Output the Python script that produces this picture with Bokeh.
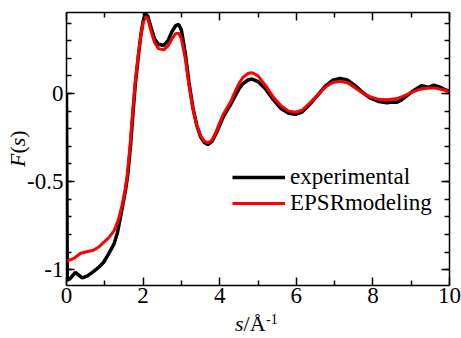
from bokeh.plotting import figure
from bokeh.models import (FixedTicker, LinearAxis, Legend, LegendItem, Div,
                          Range1d, CustomJSTickFormatter)
from bokeh.embed import file_html
from bokeh.resources import INLINE

FONT = "Liberation Serif"

# ---- data ----
s_exp = [0.0, 0.02, 0.1, 0.23, 0.41, 0.55, 0.71, 0.85, 0.97, 1.1, 1.24, 1.33, 1.41, 1.48,
         1.54, 1.6, 1.67, 1.74, 1.8, 1.87, 1.94, 2.0, 2.06, 2.12, 2.2, 2.3, 2.4, 2.54, 2.65,
         2.75, 2.85, 2.93, 3.0, 3.1, 3.2, 3.3, 3.4, 3.5, 3.6, 3.69, 3.8, 3.9, 4.0, 4.1, 4.28,
         4.4, 4.5, 4.6, 4.75, 4.85, 5.0, 5.2, 5.4, 5.6, 5.8, 5.98, 6.15, 6.35, 6.55, 6.75,
         6.95, 7.15, 7.35, 7.55, 7.75, 7.95, 8.15, 8.37, 8.5, 8.63, 8.75, 8.9, 9.05, 9.2,
         9.28, 9.45, 9.59, 9.75, 9.9, 10.0]
F_exp = [0.0, -1.06, -1.05, -1.015, -1.047, -1.035, -1.01, -0.985, -0.958, -0.91, -0.854,
         -0.79, -0.70, -0.62, -0.55, -0.46, -0.30, -0.10, 0.06, 0.20, 0.33, 0.41, 0.453,
         0.44, 0.38, 0.31, 0.28, 0.273, 0.30, 0.35, 0.385, 0.392, 0.36, 0.23, 0.06, -0.08,
         -0.18, -0.245, -0.278, -0.29, -0.272, -0.23, -0.18, -0.13, -0.065, -0.015, 0.025,
         0.055, 0.078, 0.082, 0.068, 0.025, -0.035, -0.085, -0.112, -0.118, -0.105, -0.062,
         -0.012, 0.04, 0.075, 0.085, 0.075, 0.042, 0.003, -0.028, -0.045, -0.052, -0.048,
         -0.05, -0.036, -0.01, 0.015, 0.035, 0.045, 0.035, 0.048, 0.036, 0.02, 0.013]

s_mod = [0.0, 0.2, 0.37, 0.5, 0.7, 0.85, 0.97, 1.1, 1.24, 1.35, 1.45, 1.52, 1.58, 1.65, 1.74,
         1.8, 1.87, 1.94, 2.0, 2.06, 2.12, 2.2, 2.3, 2.4, 2.54, 2.65, 2.75, 2.85, 2.93, 3.0,
         3.1, 3.2, 3.3, 3.4, 3.5, 3.6, 3.69, 3.8, 3.9, 4.0, 4.1, 4.28, 4.4, 4.5, 4.6, 4.75,
         4.85, 5.0, 5.2, 5.4, 5.6, 5.8, 5.98, 6.15, 6.35, 6.55, 6.75, 6.95, 7.15, 7.35, 7.55,
         7.75, 7.95, 8.15, 8.37, 8.6, 8.8, 9.0, 9.2, 9.4, 9.55, 9.7, 9.85, 10.0]
F_mod = [-0.953, -0.935, -0.907, -0.90, -0.89, -0.87, -0.845, -0.82, -0.78, -0.72, -0.635,
         -0.56, -0.475, -0.32, -0.07, 0.074, 0.21, 0.33, 0.40, 0.437, 0.425, 0.36, 0.29,
         0.255, 0.248, 0.27, 0.31, 0.34, 0.343, 0.31, 0.2, 0.045, -0.085, -0.18, -0.24,
         -0.27, -0.28, -0.265, -0.22, -0.165, -0.115, -0.05, 0.01, 0.055, 0.09, 0.115,
         0.118, 0.1, 0.045, -0.02, -0.07, -0.1, -0.106, -0.095, -0.055, -0.01, 0.035, 0.063,
         0.07, 0.06, 0.03, 0.0, -0.02, -0.033, -0.036, -0.03, -0.015, 0.005, 0.022, 0.03,
         0.032, 0.028, 0.02, 0.012]

series_names = ["experimental", "EPSRmodeling"]

x_major = [0, 2, 4, 6, 8, 10]
x_minor = [1, 3, 5, 7, 9]
y_major = [-1, -0.5, 0]
y_minor = [-1.0, -0.9, -0.8, -0.7, -0.6, -0.5, -0.4, -0.3, -0.2, -0.1, 0.0, 0.1, 0.2, 0.3, 0.4]

# ---- figure ----
W, H = 461, 338
p = figure(width=W, height=H, output_backend="svg", toolbar_location=None,
           x_range=Range1d(0, 10), y_range=Range1d(-1.09, 0.46),
           min_border_left=66, min_border_right=12, min_border_top=12, min_border_bottom=53,
           x_axis_location=None, y_axis_location=None)
p.styles = {"position": "absolute", "left": "0px", "top": "0px"}
p.xgrid.visible = False
p.ygrid.visible = False
p.outline_line_color = None
p.background_fill_color = "white"
p.border_fill_color = "white"


def style_axis(ax, ticks, minor, show_labels):
    ax.ticker = FixedTicker(ticks=ticks, minor_ticks=minor)
    ax.axis_line_color = "black"
    ax.axis_line_width = 1.5
    ax.major_tick_in = 8
    ax.major_tick_out = 0
    ax.minor_tick_in = 5
    ax.minor_tick_out = 0
    ax.major_tick_line_color = "black"
    ax.minor_tick_line_color = "black"
    ax.major_tick_line_width = 1.5
    ax.minor_tick_line_width = 1.5
    ax.major_label_text_font = FONT
    ax.major_label_text_color = "black"
    if show_labels:
        ax.formatter = CustomJSTickFormatter(code="return tick.toString();")
        ax.major_label_text_font_size = "23px"
    else:
        ax.formatter = CustomJSTickFormatter(code="return '';")
        ax.major_label_text_font_size = "0px"
        ax.major_label_standoff = 0


xb = LinearAxis()
style_axis(xb, x_major, x_minor, True)
xb.major_label_standoff = 2
p.add_layout(xb, "below")

yl = LinearAxis()
style_axis(yl, y_major, y_minor, True)
yl.major_label_standoff = 3
p.add_layout(yl, "left")

xt = LinearAxis()
style_axis(xt, x_major, x_minor, False)
p.add_layout(xt, "above")

yr = LinearAxis()
style_axis(yr, y_major, y_minor, False)
p.add_layout(yr, "right")

r_exp = p.line(s_exp, F_exp, line_color="black", line_width=3.5)
r_mod = p.line(s_mod, F_mod, line_color="red", line_width=3)

# ---- legend (one box per entry for exact placement) ----
for name, rend, ypos in [(series_names[0], r_exp, 95), (series_names[1], r_mod, 69)]:
    lg = Legend(items=[LegendItem(label=name, renderers=[rend])], location=(166, ypos),
                orientation="vertical", padding=0, margin=0, spacing=0,
                label_standoff=5, glyph_width=53, glyph_height=22, label_height=22,
                label_text_font=FONT, label_text_font_size="23px",
                label_text_color="black", border_line_color=None,
                background_fill_alpha=0)
    p.add_layout(lg)

# ---- axis titles (mixed italic / upright / superscript) as an HTML overlay ----
css_font = "font-family:'Liberation Serif',serif;color:black;white-space:nowrap;"
titles_html = (
    f'<span style="position:absolute;left:235px;top:313px;font-size:22px;line-height:22px;{css_font}">'
    f'<i>s</i>/Å</span>'
    f'<span style="position:absolute;left:266px;top:313.3px;font-size:14px;line-height:14px;{css_font}">'
    f'-1</span>'
    f'<span style="position:absolute;left:6.6px;top:166.7px;font-size:22px;line-height:22px;'
    f'transform-origin:0 0;transform:rotate(-90deg);{css_font}">'
    f'<i>F</i>(<i>s</i>)</span>'
)
titles = Div(text=titles_html, width=W, height=H,
             styles={"position": "absolute", "left": "0px", "top": "0px",
                     "pointer-events": "none", "margin": "0px", "padding": "0px"})

open("out.html", "w").write(file_html([p, titles], INLINE))
